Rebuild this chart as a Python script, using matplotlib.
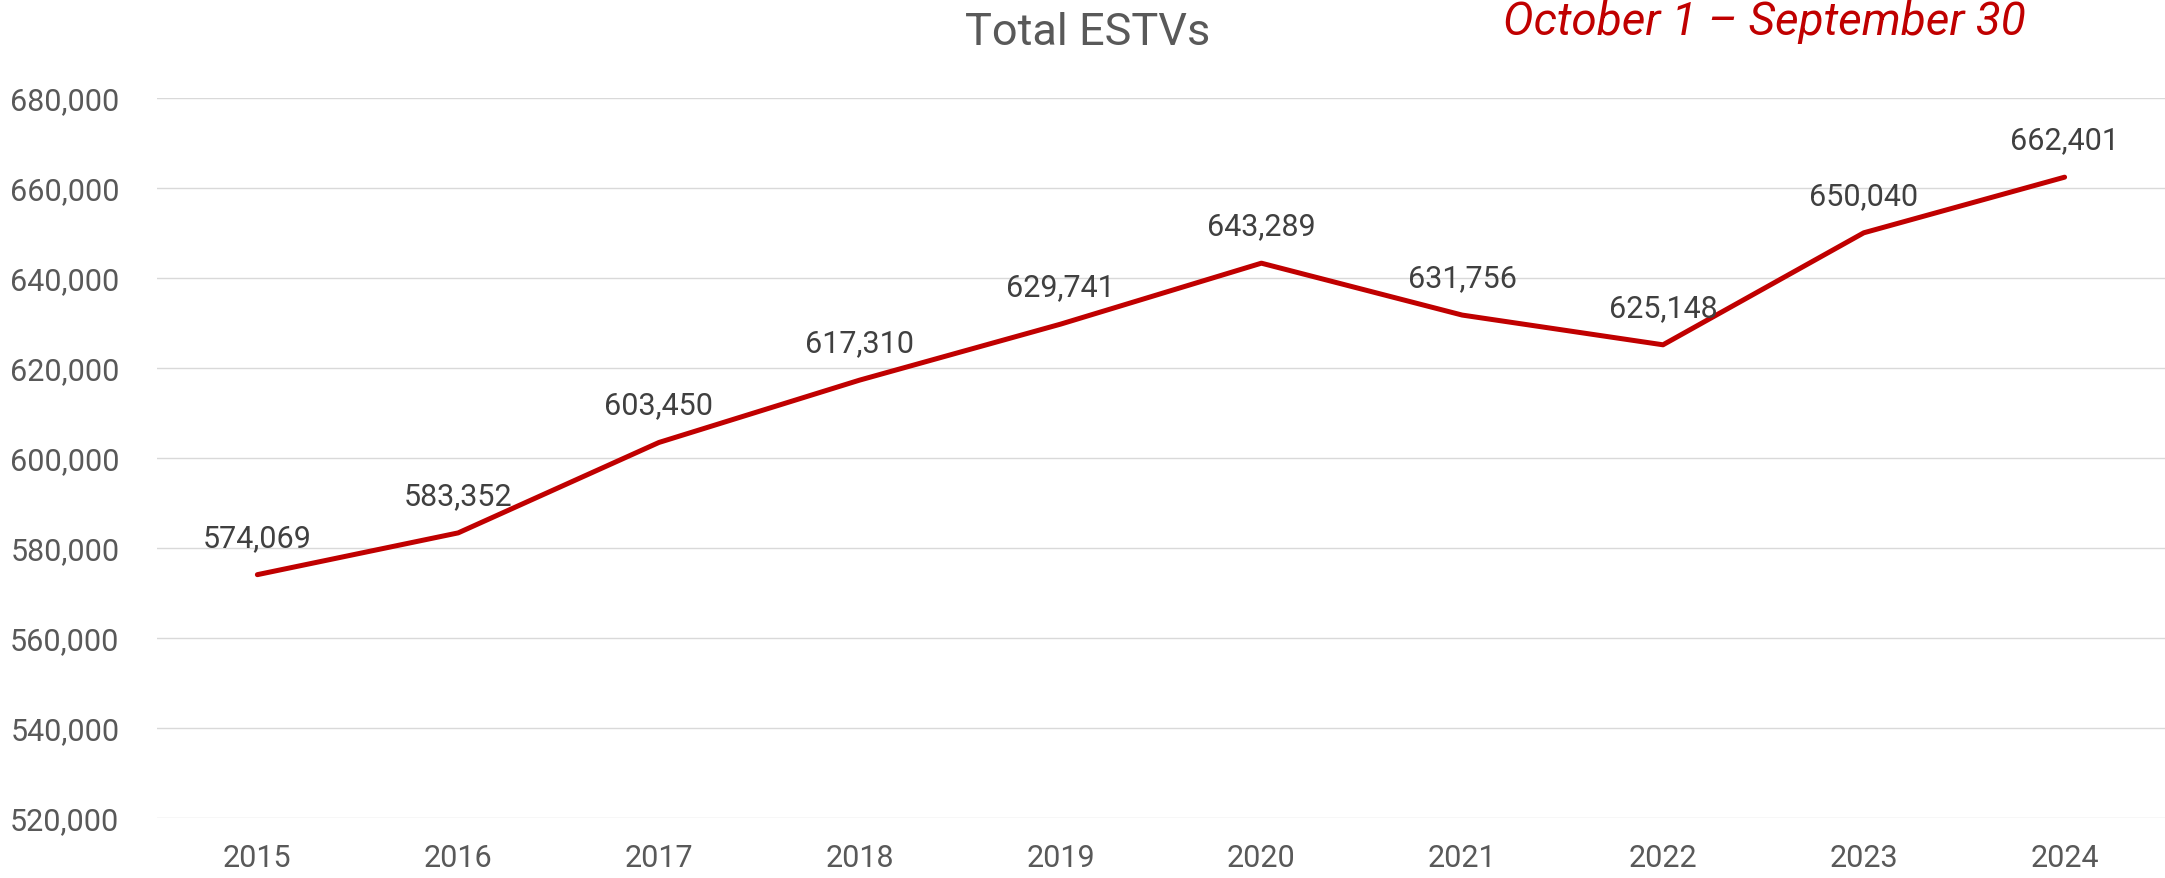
import matplotlib
matplotlib.use("Agg")
import matplotlib.pyplot as plt
from matplotlib.ticker import FuncFormatter, MultipleLocator

years = ["2015", "2016", "2017", "2018", "2019", "2020", "2021", "2022", "2023", "2024"]
estvs = [574069, 583352, 603450, 617310, 629741, 643289, 631756, 625148, 650040, 662401]
title = "Total ESTVs"
subtitle = "October 1 \u2013 September 30"

plt.rcParams['font.family'] = ['Roboto', 'DejaVu Sans']

fig = plt.figure(figsize=(21.65, 8.79), dpi=100)
ax = fig.add_axes([0.0725, 0.0683, 0.9275, 0.8191])

x = list(range(len(years)))
ax.plot(x, estvs, color="#C00000", linewidth=3.6, solid_capstyle="round", solid_joinstyle="round", zorder=3)

for xi, v in zip(x, estvs):
    ax.annotate(f"{v:,}", (xi, v), xytext=(0, 27), textcoords="offset points",
                ha="center", va="center", fontsize=22, color="#404040")

ax.set_xlim(-0.5, len(years) - 0.5)
ax.set_ylim(520000, 680000)
ax.yaxis.set_major_locator(MultipleLocator(20000))
ax.yaxis.set_major_formatter(FuncFormatter(lambda v, p: f"{int(v):,}"))
ax.set_xticks(x)
ax.set_xticklabels(years)
ax.grid(axis="y", color="#D9D9D9", linewidth=1.0)
ax.set_axisbelow(True)
for s in ax.spines.values():
    s.set_visible(False)
ax.tick_params(axis="both", length=0, labelsize=22, labelcolor="#595959")
ax.tick_params(axis="y", pad=27)
ax.tick_params(axis="x", pad=18)

fig.text(0.5025, 0.962, title, ha="center", va="center", fontsize=32.5, color="#595959")
fig.text(0.815, 0.975, subtitle, ha="center", va="center", fontsize=33, color="#C00000", style="italic")

fig.savefig("out.png", dpi=100)
